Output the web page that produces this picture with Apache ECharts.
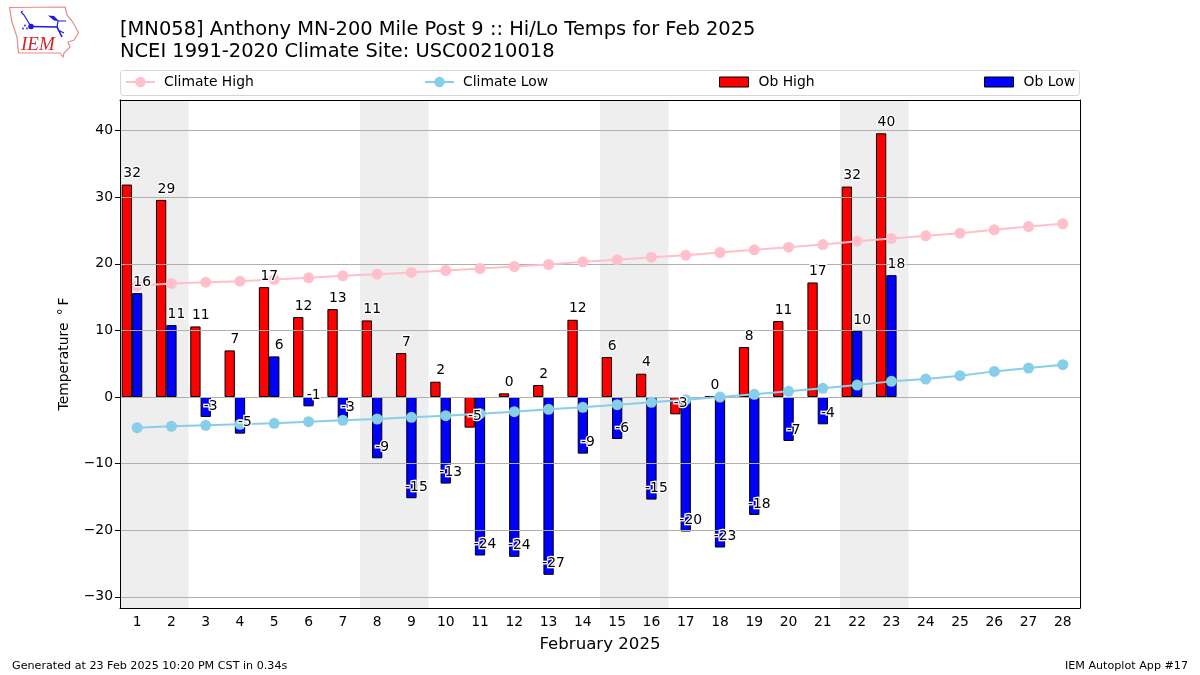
<!DOCTYPE html>
<html>
<head>
<meta charset="utf-8">
<style>html,body{margin:0;padding:0;background:#fff}#c{width:1200px;height:675px}</style>
<script src="https://cdn.jsdelivr.net/npm/echarts@6/dist/echarts.min.js"></script>
</head>
<body>
<div id="c"></div>
<script>
const days = ['1','2','3','4','5','6','7','8','9','10','11','12','13','14','15','16','17','18','19','20','21','22','23','24','25','26','27','28'];
const obHigh = [31.9,29.6,10.6,7.0,16.5,12.0,13.2,11.5,6.6,2.3,-4.6,0.55,1.8,11.6,6.0,3.5,-2.6,0.1,7.5,11.4,17.2,31.6,39.6,null,null,null,null,null];
const obLow = [15.6,10.8,-3.0,-5.5,6.1,-1.4,-3.2,-9.2,-15.2,-13.0,-23.8,-24.0,-26.7,-8.5,-6.3,-15.4,-20.2,-22.6,-17.7,-6.6,-4.1,9.9,18.3,null,null,null,null,null];
const highLabels = ['32','29','11','7','17','12','13','11','7','2','-5','0','2','12','6','4','-3','0','8','11','17','32','40',null,null,null,null,null];
const lowLabels = ['16','11','-3','-5','6','-1','-3','-9','-15','-13','-24','-24','-27','-9','-6','-15','-20','-23','-18','-7','-4','10','18',null,null,null,null,null];
const climateHigh = [16.7,17.05,17.25,17.4,17.65,17.9,18.2,18.45,18.7,19.0,19.3,19.6,19.9,20.3,20.6,21.0,21.3,21.7,22.1,22.5,22.9,23.4,23.8,24.2,24.6,25.1,25.6,26.0];
const climateLow = [-4.6,-4.4,-4.25,-4.1,-3.95,-3.7,-3.5,-3.3,-3.05,-2.8,-2.5,-2.2,-1.85,-1.55,-1.15,-0.8,-0.4,0.0,0.4,0.85,1.3,1.8,2.35,2.7,3.2,3.85,4.35,4.85];
const weekends = [[0.5,2.5],[7.5,9.5],[14.5,16.5],[21.5,23.5]];
const yTicks = [-30,-20,-10,0,10,20,30,40];
const titleLines = '[MN058] Anthony MN-200 Mile Post 9 :: Hi/Lo Temps for Feb 2025\nNCEI 1991-2020 Climate Site: USC00210018';
const xName = 'February 2025';
const yName = 'Temperature \u2009\u00B0\u2009F';
const footLeft = 'Generated at 23 Feb 2025 10:20 PM CST in 0.34s';
const footRight = 'IEM Autoplot App #17';

const FONT = '"DejaVu Sans"';
const Y_MIN = -31.68, Y_MAX = 44.6;
const chart = echarts.init(document.getElementById('c'), null, {renderer:'canvas', width:1200, height:675});

function labelSeries(name, values, labels, dx, halo) {
  return {
    name: name, type: 'scatter', symbolSize: 0, z: halo ? 10 : 11, silent: true, clip: false,
    itemStyle: {opacity: 1},
    data: values.map((v, i) => ({value: v, label: {formatter: labels[i] === null ? '' : labels[i]}})),
    label: Object.assign({show: true, position: 'top', distance: 4, offset: [dx, 0], color: '#000',
      fontFamily: FONT, fontSize: 13.9},
      halo ? {color: '#fff', textBorderColor: '#fff', textBorderWidth: 2.5} : {})
  };
}
function legend(name, left, icon) {
  const o = {
    data: [name], left: left, top: 75, padding: 0, orient: 'horizontal',
    itemWidth: 29, itemHeight: icon ? 10 : 13, itemGap: 0, selectedMode: false,
    textStyle: {fontFamily: FONT, fontSize: 13.9, color: '#000', padding: [0,0,0,icon ? 5 : 4]}
  };
  if (icon) { o.icon = icon; o.itemStyle = {borderWidth: 1, borderColor: '#000'}; }
  return o;
}
const darkBlue = '#1a1ae0', logoRed = '#e88a8a';
chart.setOption({
  animation: false,
  backgroundColor: '#fff',
  textStyle: {fontFamily: FONT},
  title: {text: titleLines, left: 120, top: 18.5, padding: 0,
    textStyle: {fontFamily: FONT, fontSize: 19.45, fontWeight: 'normal', color: '#000', lineHeight: 22.5}},
  legend: [legend('Climate High', 125), legend('Climate Low', 424), legend('Ob High', 719, 'rect'), legend('Ob Low', 984, 'rect')],
  grid: {left: 120, right: 120, top: 100, bottom: 67, show: false, containLabel: false},
  xAxis: [
    {type: 'category', data: days, boundaryGap: true, position: 'bottom', z: 3,
     name: xName, nameLocation: 'middle', nameGap: 28,
     nameTextStyle: {fontFamily: FONT, fontSize: 16.6, color: '#000'},
     axisLine: {onZero: false, lineStyle: {color: '#000', width: 1}},
     axisTick: {alignWithLabel: true, length: 5, lineStyle: {color: '#000'}},
     axisLabel: {interval: 0, fontFamily: FONT, fontSize: 13.9, color: '#000', margin: 7},
     splitLine: {show: false}},
    {type: 'value', min: 0.5, max: 28.5, position: 'top', z: 3,
     axisLine: {show: true, onZero: false, lineStyle: {color: '#000', width: 1}},
     axisTick: {show: false}, axisLabel: {show: false}, splitLine: {show: false}}
  ],
  yAxis: [
    {type: 'value', min: Y_MIN, max: Y_MAX, position: 'left', z: 3,
     name: yName, nameLocation: 'middle', nameGap: 49, nameRotate: 90,
     nameTextStyle: {fontFamily: FONT, fontSize: 13.9, color: '#000'},
     axisLine: {show: true, onZero: false, lineStyle: {color: '#000', width: 1}},
     axisTick: {show: true, length: 5, lineStyle: {color: '#000'}, customValues: yTicks},
     axisLabel: {fontFamily: FONT, fontSize: 13.9, color: '#000', margin: 7, customValues: yTicks,
       formatter: v => String(v).replace('-', '\u2212')},
     splitLine: {show: true, lineStyle: {color: '#b0b0b0', width: 1}}},
    {type: 'value', min: Y_MIN, max: Y_MAX, position: 'right', z: 3,
     axisLine: {show: true, onZero: false, lineStyle: {color: '#000', width: 1}},
     axisTick: {show: false}, axisLabel: {show: false}, splitLine: {show: false}}
  ],
  series: [
    {name: 'Weekend', type: 'line', xAxisIndex: 1, yAxisIndex: 0, data: [], z: 0, silent: true,
     markArea: {silent: true, itemStyle: {color: '#eeeeee'}, label: {show: false},
       data: weekends.map(w => [{xAxis: w[0], yAxis: Y_MIN}, {xAxis: w[1], yAxis: Y_MAX}])}},
    {name: 'Ob High', type: 'bar', data: obHigh, barWidth: 10.3, barGap: 0, z: 2, 
     itemStyle: {color: '#ff0000', borderColor: '#000', borderWidth: 1}},
    {name: 'Ob Low', type: 'bar', data: obLow, barWidth: 10.3, barGap: 0, z: 2,
     itemStyle: {color: '#0000ff', borderColor: '#000', borderWidth: 1}},
    {name: 'Spacer', type: 'bar', data: [], barWidth: 10.3, barGap: 0, z: 2},
    {name: 'Climate High', type: 'line', data: climateHigh, z: 5, symbol: 'circle', symbolSize: 11, showSymbol: true,
     lineStyle: {color: '#ffc0cb', width: 2}, itemStyle: {color: '#ffc0cb'}},
    {name: 'Climate Low', type: 'line', data: climateLow, z: 5, symbol: 'circle', symbolSize: 11, showSymbol: true,
     lineStyle: {color: '#87ceeb', width: 2}, itemStyle: {color: '#87ceeb'}},
    labelSeries('High halo', obHigh, highLabels, -5, true),
    labelSeries('Low halo', obLow, lowLabels, 5, true),
    labelSeries('High labels', obHigh, highLabels, -5, false),
    labelSeries('Low labels', obLow, lowLabels, 5, false)
  ],
  graphic: [
    {type: 'rect', z: -1, shape: {x: 120.5, y: 70.5, width: 959, height: 25, r: 3},
     style: {fill: '#fff', stroke: '#d5d5d5', lineWidth: 1}},
    {type: 'text', left: 12, top: 661, style: {text: footLeft, font: '11.15px ' + FONT, fill: '#000'}},
    {type: 'text', right: 12, top: 661, style: {text: footRight, font: '11.15px ' + FONT, fill: '#000'}},
    {type: 'polygon', shape: {points: [[9.5,7.5],[65,7],[67,15],[72,21],[76,28],[78.5,33],[74,40],[68,42],[70,47],[64,53],[63,57],[60,53],[18.5,53],[17,37],[12,22]]},
     style: {fill: 'none', stroke: logoRed, lineWidth: 1.2}},
    {type: 'polyline', shape: {points: [[31,26.5],[57,27],[62,37]]}, style: {fill: 'none', stroke: darkBlue, lineWidth: 1.6}},
    {type: 'polyline', shape: {points: [[31,26.5],[24,15],[21,12]]}, style: {fill: 'none', stroke: darkBlue, lineWidth: 1.2}},
    {type: 'polyline', shape: {points: [[21,12],[23,11]]}, style: {fill: 'none', stroke: darkBlue, lineWidth: 1}},
    {type: 'polyline', shape: {points: [[57,27],[58,21],[66,21]]}, style: {fill: 'none', stroke: darkBlue, lineWidth: 1.2}},
    {type: 'polyline', shape: {points: [[58,30],[64,33]]}, style: {fill: 'none', stroke: darkBlue, lineWidth: 1.2}},
    {type: 'polygon', shape: {points: [[48,15.5],[54,16],[59,21],[54,20.5]]}, style: {fill: darkBlue}},
    {type: 'circle', shape: {cx: 31, cy: 26.5, r: 2.8}, style: {fill: darkBlue}},
    {type: 'circle', shape: {cx: 25, cy: 25.5, r: 0.9}, style: {fill: darkBlue}},
    {type: 'circle', shape: {cx: 23, cy: 28.5, r: 0.9}, style: {fill: darkBlue}},
    {type: 'circle', shape: {cx: 27, cy: 28.5, r: 0.9}, style: {fill: darkBlue}},
    {type: 'text', left: 21, top: 35, style: {text: 'IEM', font: 'italic 19px "Liberation Serif"', fill: '#d8232a'}}
  ]
});
</script>
</body>
</html>
